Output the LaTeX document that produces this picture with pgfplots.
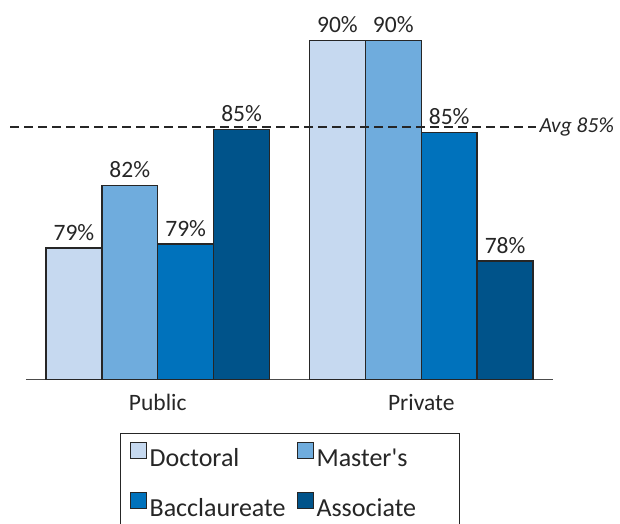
\documentclass[border=0pt]{standalone}
\usepackage{pgfplots}
\pgfplotsset{compat=1.18}
\usepackage{fontspec}
\setmainfont{Carlito}
\definecolor{cDoc}{HTML}{C6D9F0}
\definecolor{cMas}{HTML}{6FACDD}
\definecolor{cBac}{HTML}{0072BC}
\definecolor{cAss}{HTML}{00538A}
\definecolor{edge}{HTML}{262626}
\pgfplotstableread{
x y l
0 78.99 79
1 90.00 90
}\doctoral
\pgfplotstableread{
x y l
0 82.30 82
1 90.00 90
}\masters
\pgfplotstableread{
x y l
0 79.21 79
1 85.12 85
}\bacc
\pgfplotstableread{
x y l
0 85.30 85
1 78.30 78
}\assoc
\begin{document}
\begin{tikzpicture}
\useasboundingbox (-26pt,-143.3pt) rectangle (594pt,379.7pt);
\begin{axis}[
  at={(0pt,0pt)}, anchor=south west,
  scale only axis, width=527pt, height=357.8pt,
  xmin=-0.5, xmax=1.5, ymin=72, ymax=91,
  xtick={0,1}, xticklabels={Public,Private},
  axis x line*=bottom, axis y line=none,
  x axis line style={draw=black!70, line width=1.5pt, -},
  major tick length=0pt,
  xticklabel style={font=\fontsize{23.5}{28}\selectfont, text=edge, yshift=-11pt},
  clip=false,
  barplot/.style={ybar, bar width=55.9pt, draw=edge, line width=1.4pt,
    bar shift=#1,
    point meta=explicit symbolic,
    nodes near coords={\pgfplotspointmeta\%},
    every node near coord/.append style={font=\fontsize{23.5}{28}\selectfont, text=edge, inner sep=0pt, yshift=7pt, xshift=#1},
    legend image code/.code={\draw[##1,line width=1pt] (0pt,0pt) rectangle (16pt,16pt);}},
  legend columns=2,
  legend style={at={(axis description cs:0.1784,-0.149)}, anchor=north west,
    draw=edge, line width=1.2pt, font=\fontsize{26}{31}\selectfont, text=edge,
    inner xsep=9pt, inner ysep=8pt, row sep=24pt,
    nodes={inner xsep=3pt, inner ysep=0pt},
    /tikz/every even column/.append style={column sep=8pt}},
  legend cell align=left,
]
\addplot[barplot=-83.85pt, fill=cDoc] table[x=x,y=y,meta=l] {\doctoral};
\addplot[barplot=-27.95pt, fill=cMas] table[x=x,y=y,meta=l] {\masters};
\addplot[barplot=27.95pt, fill=cBac] table[x=x,y=y,meta=l] {\bacc};
\addplot[barplot=83.85pt, fill=cAss] table[x=x,y=y,meta=l] {\assoc};
\addplot[forget plot, sharp plot, draw=edge, line width=1.8pt, dash pattern=on 8.5pt off 5.5pt]
  coordinates {(-0.559,85.44) (1.434,85.44)}
  node[pos=1, anchor=west, inner sep=3pt, font=\fontsize{21.5}{26}\selectfont\itshape, text=edge] {Avg 85\%};
\legend{Doctoral,Master\XeTeXglyph\XeTeXcharglyph"27 s,Bacclaureate,\makebox[131pt][l]{Associate}}
\end{axis}
\end{tikzpicture}
\end{document}
